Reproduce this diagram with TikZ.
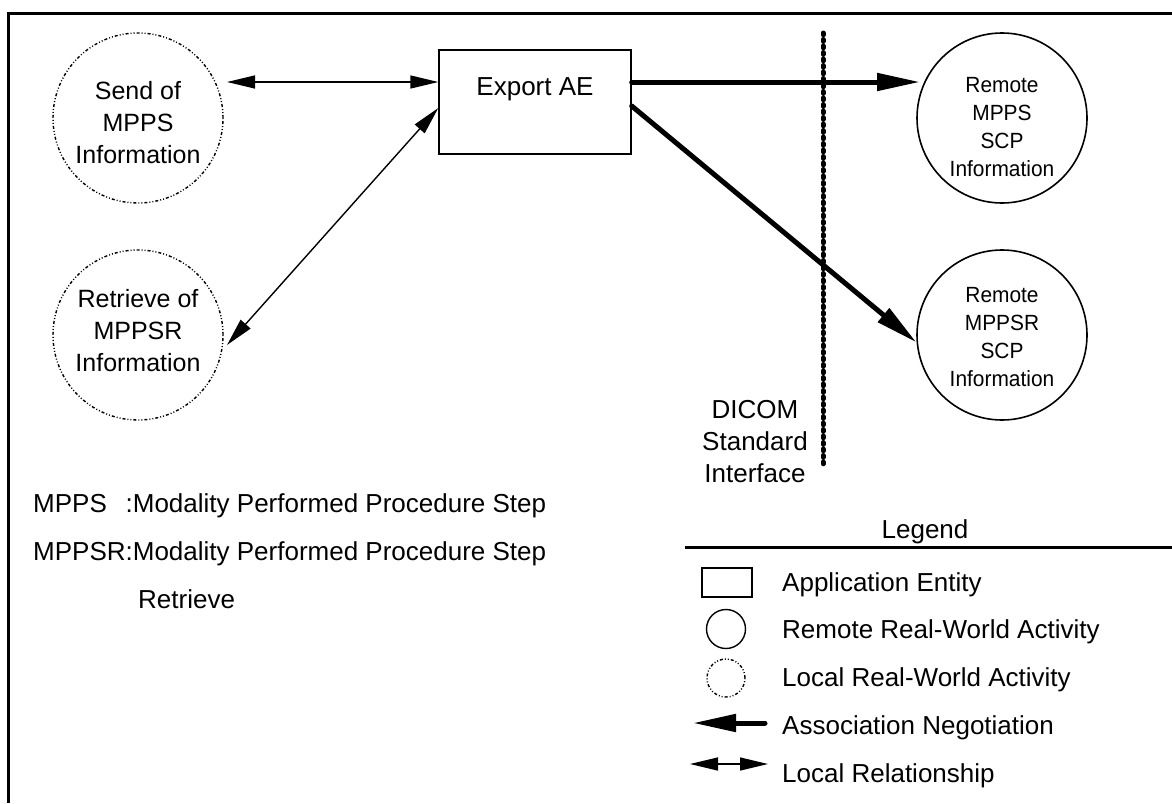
\documentclass[tikz,border=0pt]{standalone}
\usepackage{fontspec}
\setmainfont{Liberation Sans}
\newfontfamily\remfont[FakeStretch=0.95]{Liberation Sans}
\usetikzlibrary{arrows.meta,calc}
\begin{document}
\begin{tikzpicture}[x=1pt,y=-1pt,
  txt/.style={font=\fontsize{26}{32}\selectfont, inner sep=0pt},
  dotline/.style={line width=1.4pt, dash pattern=on 3pt off 2pt on 1pt off 2pt on 1pt off 2pt},
  local/.style={circle, draw, dotline, minimum size=170pt, inner sep=0pt},
  localtxt/.style={align=center, inner sep=0pt, font=\fontsize{25}{32}\selectfont},
  remote/.style={circle, draw, line width=1.6pt, minimum size=170pt, inner sep=0pt},
  remotetxt/.style={align=center, inner sep=0pt, font=\remfont\fontsize{22}{28}\selectfont},
  aebox/.style={draw, line width=1.4pt, minimum width=192pt, minimum height=104pt, inner sep=0pt},
  localrel/.style={line width=1.4pt, {Triangle[length=28pt,width=13pt]}-{Triangle[length=28pt,width=13pt]}},
  assoc/.style={line width=5pt, line cap=round, -{Triangle[length=43pt,width=17pt]}},
  ifline/.style={line width=5pt, line cap=round, dash pattern=on 1.8pt off 4.7pt},
]
\useasboundingbox (0,0) rectangle (1172,803);
% frame
\coordinate (fr) at (1172,13);
\coordinate (fc) at (8,13);
\coordinate (fb) at (8,803);
\draw[line width=3pt] (fr) -- (fc) -- (fb);

% nodes
\node[local] (send) at (138,118) {};
\node[localtxt] (sendtxt) at ($(send.center)+(0,5)$) {Send of\\MPPS\\Information};
\node[local] (retr) at (138,335) {};
\node[localtxt] (retrtxt) at ($(retr.center)+(0,-4)$) {Retrieve of\\MPPSR\\Information};
\node[aebox] (ae) at (535,102) {};
\node[txt, anchor=base] (aetext) at (535,95) {Export AE};
\node[remote] (rm) at (1002,118) {};
\node[remotetxt] (rmtxt) at ($(rm.center)+(0,9)$) {Remote\\MPPS\\SCP\\Information};
\node[remote] (rr) at (1002,335) {};
\node[remotetxt] (rrtxt) at ($(rr.center)+(0,2)$) {Remote\\MPPSR\\SCP\\Information};

% connectors
\draw[localrel] ($(send.center)+(89,-36)$) -- ($(ae.west)+(0,-20)$);
\draw[localrel] ($(ae.west)+(0,6)$) -- ($(retr.center)+(89,10)$);
\draw[assoc] ($(ae.east)+(0,-20)$) -- ($(rm.center)+(-82,-36)$);
\draw[assoc] ($(ae.east)+(0,4)$) -- (rr.185);

% DICOM interface
\coordinate (dtop) at (823,33);
\coordinate (dbot) at (823,467);
\draw[ifline] (dtop) -- (dbot);
\node[txt, align=center] (dicom) at (755,442) {DICOM\\Standard\\Interface};

% abbreviations
\node[txt, anchor=base west] (k1) at (33,512) {\rlap{MPPS}\hphantom{MPPSR}:Modality Performed Procedure Step};
\node[txt, anchor=base west] (k2) at (33,560) {MPPSR:Modality Performed Procedure Step};
\node[txt, anchor=base west] (k3) at (138,608) {Retrieve};

% legend
\node[txt, anchor=base] (legend) at (925,538) {Legend};
\coordinate (lgl) at (685,547);
\coordinate (lgr) at (1172,547);
\draw[line width=3pt] (lgl) -- (lgr);
\node[draw, line width=1.4pt, minimum width=50pt, minimum height=29pt, inner sep=0pt] (lrect) at (727,582.5) {};
\node[circle, draw, line width=1.4pt, minimum size=39pt, inner sep=0pt] (lcirc) at (726,629) {};
\node[circle, draw, dotline, minimum size=38pt, inner sep=0pt] (ldot) at (726,678) {};
\coordinate (a1) at (765,723);
\coordinate (a2) at (693,723);
\draw[assoc] (a1) -- (a2);
\coordinate (b1) at (690,764);
\coordinate (b2) at (768,764);
\draw[localrel] (b1) -- (b2);
\node[txt, anchor=base west] (t1) at (782,591) {Application Entity};
\node[txt, anchor=base west] (t2) at (782,638) {Remote Real-World Activity};
\node[txt, anchor=base west] (t3) at (782,686) {Local Real-World Activity};
\node[txt, anchor=base west] (t4) at (782,734) {Association Negotiation};
\node[txt, anchor=base west] (t5) at (782,782) {Local Relationship};
\end{tikzpicture}
\end{document}
